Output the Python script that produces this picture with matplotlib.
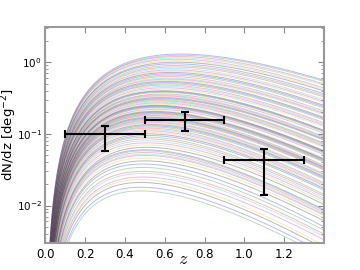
import numpy as np
import matplotlib
matplotlib.use("Agg")
import matplotlib.pyplot as plt

# peak values of the model dN/dz curves (deg^-2)
peak_vals = [1.30, 1.25, 1.20, 1.15, 1.10, 1.05, 1.00, 0.95, 0.90, 0.86,
             0.82, 0.78, 0.75, 0.72, 0.69, 0.66, 0.63, 0.60, 0.58, 0.56,
             0.54, 0.52, 0.50, 0.48, 0.46, 0.44, 0.42, 0.40, 0.39, 0.38,
             0.36, 0.35, 0.34, 0.33, 0.32, 0.31, 0.30, 0.29, 0.28, 0.27,
             0.26, 0.25, 0.245, 0.24, 0.235, 0.23, 0.22, 0.21, 0.205, 0.20,
             0.195, 0.19, 0.185, 0.18, 0.175, 0.17, 0.165, 0.16, 0.155, 0.15,
             0.145, 0.14, 0.135, 0.13, 0.125, 0.12, 0.115, 0.11, 0.105, 0.10,
             0.095, 0.09, 0.085, 0.08, 0.075, 0.07, 0.065, 0.06, 0.058, 0.055,
             0.052, 0.05, 0.046, 0.042, 0.038, 0.034, 0.030, 0.028, 0.025, 0.023,
             0.021, 0.018, 0.016]
# redshift of each curve's peak
peak_z = [0.68, 0.68, 0.67, 0.67, 0.66, 0.66, 0.66, 0.65, 0.65, 0.65,
          0.64, 0.64, 0.64, 0.63, 0.63, 0.63, 0.62, 0.62, 0.62, 0.62,
          0.61, 0.61, 0.61, 0.60, 0.60, 0.60, 0.60, 0.59, 0.59, 0.59,
          0.59, 0.58, 0.58, 0.58, 0.58, 0.58, 0.57, 0.57, 0.57, 0.57,
          0.57, 0.56, 0.56, 0.56, 0.56, 0.56, 0.56, 0.55, 0.55, 0.55,
          0.55, 0.55, 0.55, 0.54, 0.54, 0.54, 0.54, 0.54, 0.54, 0.53,
          0.53, 0.53, 0.53, 0.53, 0.53, 0.52, 0.52, 0.52, 0.52, 0.52,
          0.52, 0.51, 0.51, 0.51, 0.51, 0.51, 0.51, 0.50, 0.50, 0.50,
          0.50, 0.50, 0.50, 0.50, 0.49, 0.49, 0.49, 0.49, 0.49, 0.48,
          0.48, 0.48, 0.48]

# measured points
obs_z = [0.3, 0.7, 1.1]
obs_zerr = [0.2, 0.2, 0.2]
obs_val = [0.100, 0.155, 0.043]
obs_lo = [0.058, 0.110, 0.014]
obs_hi = [0.130, 0.200, 0.062]

fig = plt.figure(figsize=(3.6, 2.7), dpi=100)
ax = fig.add_axes([0.126, 0.1, 0.774, 0.8])

z = np.linspace(0.001, 1.4, 400)
cyc = ['b', 'g', 'r', 'c', 'm', 'y', 'k']
shape = 2.5
for i, (A, zp) in enumerate(zip(peak_vals, peak_z)):
    x = z / zp
    y = A * x**shape * np.exp(shape * (1 - x))
    ax.plot(z, y, color=cyc[i % len(cyc)], alpha=0.28, lw=0.7)

yerr = [np.array(obs_val) - np.array(obs_lo), np.array(obs_hi) - np.array(obs_val)]
ax.errorbar(obs_z, obs_val, xerr=obs_zerr, yerr=yerr, fmt='none', ecolor='k',
            elinewidth=1.5, capsize=3, capthick=1.5, zorder=5)

ax.set_yscale('log')
ax.set_xlim(0, 1.4)
ax.set_ylim(3e-3, 3.1)
ax.set_xticks([0.0, 0.2, 0.4, 0.6, 0.8, 1.0, 1.2])
ax.tick_params(which='both', direction='in', top=True, right=True, labelsize=8.5,
               color='#888888')
ax.tick_params(axis='y', labelsize=7.5, pad=2.5)
ax.tick_params(which='major', length=4)
ax.tick_params(which='minor', length=2)
for s in ax.spines.values():
    s.set_color('#999999')
    s.set_linewidth(1.5)
fig.text(9.5 / 360, 0.5, r'dN/dz [deg$^{-2}$]', fontsize=9.5, rotation=90,
         ha='center', va='center')
fig.text(0.51, 1 - 259 / 270, r'$z$', fontsize=13, math_fontfamily='cm',
         ha='center', va='center')

fig.savefig('out.png', dpi=100)
